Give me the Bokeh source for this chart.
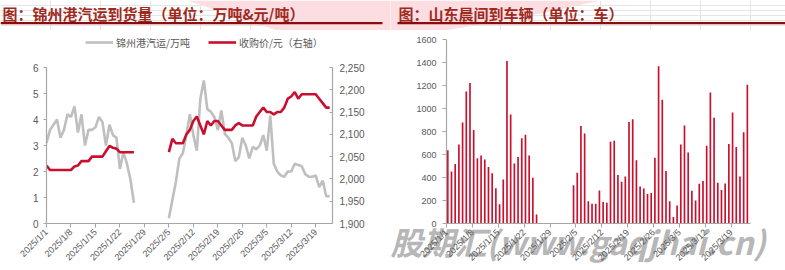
import numpy as np
import pandas as pd
from bokeh.plotting import figure
from bokeh.models import (Range1d, LinearAxis, FixedTicker, NumeralTickFormatter,
                          Legend, LegendItem, Label)
from bokeh.layouts import row, column
from bokeh.core.properties import value
from bokeh.embed import file_html
from bokeh.resources import INLINE

# ---------------- data ----------------
start_date = "2025-01-01"
end_date = "2025-03-23"

tick_labels = ["2025/1/1", "2025/1/8", "2025/1/15", "2025/1/22", "2025/1/29", "2025/2/5",
               "2025/2/12", "2025/2/19", "2025/2/26", "2025/3/5", "2025/3/12", "2025/3/19"]

title_left = "图：锦州港汽运到货量（单位：万吨&元/吨）"
title_right = "图：山东晨间到车辆（单位：车）"
legend_volume = "锦州港汽运/万吨"
legend_price = "收购价/元（右轴）"
watermark = "股期汇(www.gaqjhai.cn)"

# 锦州港汽运 (万吨), daily 1/1 .. 3/23, None = no data
volume = ([3.1, 3.6, 3.8, 4.0, 3.3, 3.6, 4.2, 4.1, 4.5, 3.5, 4.2, 3.0, 3.6, 3.6, 3.7, 4.1,
           3.9, 3.0, 3.8, 3.4, 3.3, 2.1, 2.75, 2.3, 1.7, 0.8]
          + [None] * 9
          + [0.2, 0.9, 1.6, 2.5, 2.7, 3.4, 4.2, 3.4, 2.8, 4.8, 5.5, 4.4, 4.3, 4.1, 3.6, 4.35,
             3.45, 3.3, 3.1, 2.4, 2.55, 3.3, 3.0, 2.5, 2.95, 2.85, 3.0, 3.4, 2.8, 4.15, 2.3,
             2.0, 1.85, 1.8, 2.0, 2.0, 2.3, 2.25, 2.2, 1.9, 1.8, 1.8, 1.85, 1.4, 1.65, 1.05, 1.05])

# 收购价 (元/吨), right axis
price = ([2030, 2020, 2020, 2020, 2020, 2020, 2020, 2020, 2028, 2030, 2040, 2040, 2040, 2050,
          2050, 2050, 2050, 2062, 2074, 2070, 2068, 2060, 2060, 2060, 2060, 2060]
         + [None] * 9
         + [2060, 2090, 2080, 2080, 2080, 2100, 2110, 2130, 2140, 2120, 2100, 2130, 2120, 2130,
            2130, 2120, 2110, 2110, 2110, 2120, 2125, 2120, 2120, 2120, 2120, 2140, 2150, 2160,
            2150, 2150, 2145, 2150, 2150, 2160, 2180, 2185, 2195, 2180, 2190, 2190, 2190, 2190,
            2190, 2180, 2170, 2160, 2160])

# 山东晨间到车辆 (车)
cars = ([640, 455, 520, 690, 880, 1150, 1225, 815, 570, 595, 560, 495, 440, 310, 170, 385,
         1415, 950, 525, 580, 745, 775, 595, 400, 80]
        + [None] * 9
        + [335, 445, 850, 785, 197, 175, 175, 290, 190, 183, 713, 722, 425, 365, 412, 885,
           910, 553, 325, 307, 260, 267, 575, 1370, 1078, 460, 197, 60, 160, 690, 855, 620,
           287, 203, 348, 372, 678, 1142, 922, 357, 293, 351, 693, 968, 667, 412, 797, 1209])

vol_ticks = [0, 1, 2, 3, 4, 5, 6]
price_ticks = list(range(1900, 2251, 50))
car_ticks = list(range(0, 1601, 200))

# ---------------- prep ----------------
dates = pd.date_range(start_date, end_date, freq="D")
day = np.arange(len(dates), dtype=float)
vol_arr = np.array([np.nan if v is None else v for v in volume], dtype=float)
price_arr = np.array([np.nan if v is None else v for v in price], dtype=float)
car_mask = np.array([v is not None for v in cars])
car_x = day[car_mask] + 0.35
car_top = np.array([v for v in cars if v is not None], dtype=float)

tick_pos = [int((pd.Timestamp(t.replace("/", "-")) - dates[0]).days) for t in tick_labels]
overrides = {p: t for p, t in zip(tick_pos, tick_labels)}

AX = "#A6A6A6"
TXT = "#595959"
NUMF = "Liberation Sans"
CJK = "Noto Sans CJK SC"


def style_axis(ax, size="9.5px"):
    ax.axis_line_color = AX
    ax.axis_line_width = 1.2
    ax.major_tick_line_color = AX
    ax.minor_tick_line_color = None
    ax.major_label_text_color = TXT
    ax.major_label_text_font = NUMF
    ax.major_label_text_font_size = size


def header(w, x0, title, tx, lx0, lx1):
    h = figure(width=w, height=30, x_range=Range1d(x0, x0 + w), y_range=Range1d(30, 0),
               x_axis_location=None, y_axis_location=None, min_border=0,
               min_border_left=0, min_border_right=0, min_border_top=0, min_border_bottom=0,
               toolbar_location=None, output_backend="svg", title=None,
               outline_line_color=None, frame_align=False)
    h.patch([187, 325, 360, 390, 420, 450, 490, 540, 600],
            [0, 46, 43, 40, 35, 29, 22, 13, 0], fill_color="#FBDDE2", line_color=None)
    h.text(x=[tx], y=[13], text=[title], text_font=value(CJK), text_font_style="bold",
           text_font_size="15px", text_color="#9E2A1E", text_baseline="middle")
    h.line([lx0, lx1], [22.7, 22.7], line_color="#8C0C0C", line_width=2.2)
    return h


# ---------------- left chart ----------------
# frame: x 46..332, y 30(top)..223 (bottom); vol 0..6 occupies 67..223
VOL_TOP = 6 * 193 / 156
PRICE_TOP = 1900 + 350 * 193 / 156
pl = figure(width=390, height=240, x_range=Range1d(0, 81.8), y_range=Range1d(0, VOL_TOP),
            output_backend="svg", toolbar_location=None, title=None,
            min_border_left=46, min_border_right=58, min_border_top=0, min_border_bottom=47,
            outline_line_color=None, frame_align=False)
pl.extra_y_ranges = {"price": Range1d(1900, PRICE_TOP)}
pl.grid.visible = False

r_vol = pl.line(day, vol_arr, line_color="#BFBFBF", line_width=2.6)
r_price = pl.line(day, price_arr, line_color="#C8102E", line_width=2.6, y_range_name="price")

right_ax = LinearAxis(y_range_name="price")
pl.add_layout(right_ax, "right")

pl.yaxis[0].ticker = FixedTicker(ticks=vol_ticks)
pl.yaxis[0].bounds = (vol_ticks[0], vol_ticks[-1])
pl.yaxis[0].major_tick_out = 3
pl.yaxis[0].major_tick_in = 0
pl.yaxis[0].major_label_standoff = 5
right_ax.ticker = FixedTicker(ticks=price_ticks)
right_ax.bounds = (price_ticks[0], price_ticks[-1])
right_ax.formatter = NumeralTickFormatter(format="0,0")
right_ax.major_tick_out = 0
right_ax.major_tick_in = 3
right_ax.major_label_standoff = 7
for ax in [pl.yaxis[0], right_ax]:
    style_axis(ax, "10px")

pl.xaxis.ticker = FixedTicker(ticks=tick_pos)
pl.xaxis.major_label_overrides = overrides
pl.xaxis.major_label_orientation = np.pi / 4
pl.xaxis.major_tick_out = 4
pl.xaxis.major_tick_in = 0
pl.xaxis.major_label_standoff = 3
style_axis(pl.xaxis[0], "9px")

legend = Legend(items=[LegendItem(label=legend_volume, renderers=[r_vol]),
                       LegendItem(label=legend_price, renderers=[r_price])],
                location=(39, 171), orientation="horizontal", padding=0, margin=0,
                spacing=18, glyph_width=28, glyph_height=20, label_height=20,
                label_standoff=3, border_line_color=None, background_fill_alpha=0,
                label_text_font=CJK, label_text_font_size="10px", label_text_color=TXT)
pl.add_layout(legend)

# ---------------- right chart ----------------
# whole figure is the frame; axes are fixed inside it
PXDAY = 304 / 82.2
PXCAR = 184 / 1600
X_END = 82.2
pr = figure(width=395, height=240,
            x_range=Range1d(-56 / PXDAY, X_END + 35 / PXDAY),
            y_range=Range1d(-(240 - 193.3) / PXCAR, 1600 + 9.3 / PXCAR),
            output_backend="svg", toolbar_location=None, title=None,
            min_border=0, min_border_left=0, min_border_right=0, min_border_top=0,
            min_border_bottom=0, outline_line_color=None, frame_align=False)
pr.grid.visible = False

pr.add_layout(Label(x=0, y=30, x_units="screen", y_units="screen", text=watermark,
                    text_font=CJK, text_font_style="bold italic", text_font_size="32px",
                    text_color="#ADADAD", text_alpha=0.9, text_baseline="middle",
                    level="underlay"))

pr.vbar(x=car_x, top=car_top, width=0.45, fill_color="#C8102E", line_color=None)

pr.yaxis.fixed_location = 0
pr.yaxis.bounds = (car_ticks[0], car_ticks[-1])
pr.yaxis.ticker = FixedTicker(ticks=car_ticks)
pr.yaxis.major_tick_out = 4
pr.yaxis.major_tick_in = 0
pr.yaxis.major_label_standoff = 6
style_axis(pr.yaxis[0], "9px")
pr.xaxis.fixed_location = 0
pr.xaxis.bounds = (0, X_END)
pr.xaxis.ticker = FixedTicker(ticks=tick_pos)
pr.xaxis.major_label_overrides = overrides
pr.xaxis.major_label_orientation = np.pi / 4
pr.xaxis.major_tick_out = 4
pr.xaxis.major_tick_in = 0
pr.xaxis.major_label_standoff = 3
style_axis(pr.xaxis[0], "9px")

hl = header(390, 0, title_left, 2, 0, 382)
hr = header(395, 390, title_right, 398, 397, 785)

layout = row(column(hl, pl), column(hr, pr))
open("out.html", "w").write(file_html(layout, INLINE))
